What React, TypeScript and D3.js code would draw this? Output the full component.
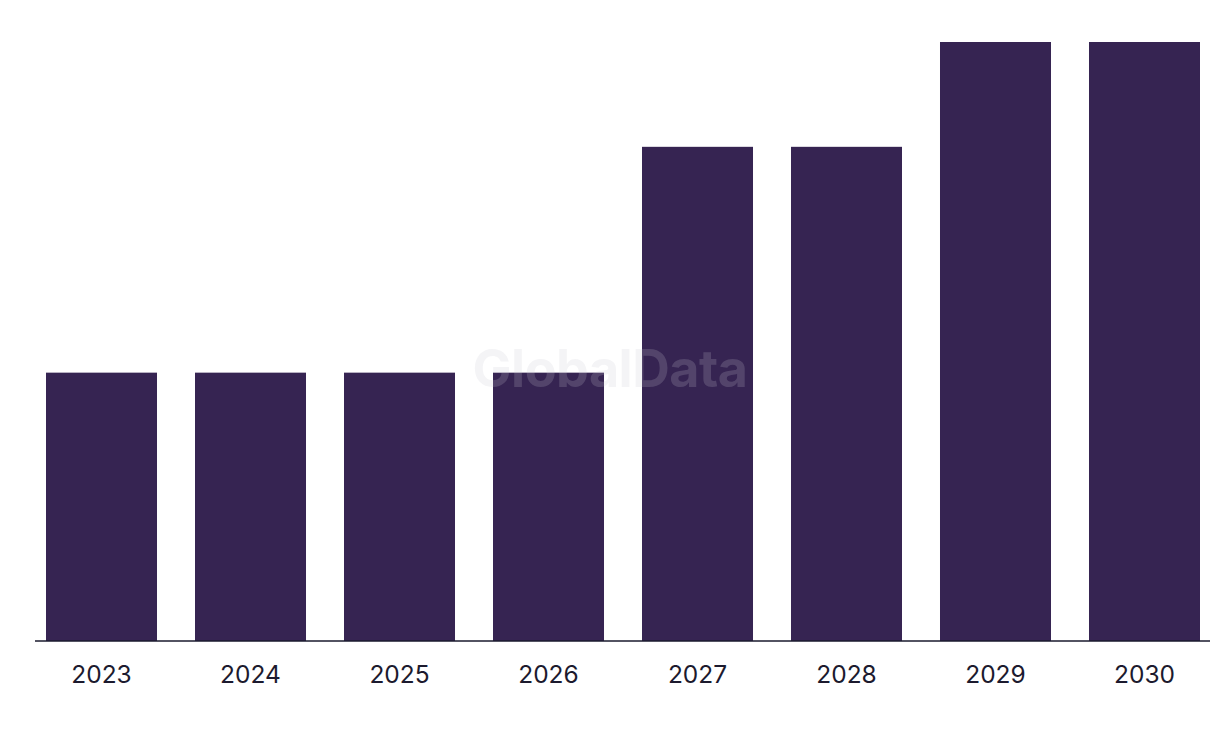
import React from "react";
import * as d3 from "d3";

const years = ["2023", "2024", "2025", "2026", "2027", "2028", "2029", "2030"];
const values = [4.48, 4.48, 4.48, 4.48, 8.25, 8.25, 10, 10];

const W = 1220;
const H = 738;
const baseY = 641;
const topY = 42;

export default function App() {
  const x = d3.scaleBand<string>().domain(years).range([46, 1200]).paddingInner(0.255).paddingOuter(0);
  const y = d3.scaleLinear().domain([0, 10]).range([baseY, topY]);
  return (
    <svg width={W} height={H} style={{ position: "absolute", left: 0, top: 0, background: "#fff" }}>
      {years.map((yr, i) => (
        <rect key={yr} x={x(yr)} y={y(values[i])} width={x.bandwidth()} height={baseY - y(values[i])} fill="#362452" />
      ))}
      <line x1={35} x2={1210} y1={baseY} y2={baseY} stroke="#1a1a2e" strokeWidth={1.6} />
      {years.map((yr) => (
        <text key={yr} x={(x(yr) as number) + x.bandwidth() / 2} y={683} textAnchor="middle"
          fontFamily="Inter, 'Noto Sans', sans-serif" fontSize={24.5} fill="#1c1a2e">{yr}</text>
      ))}
      <text x={610} y={387} textAnchor="middle" fontFamily="Inter, 'Noto Sans', sans-serif" fontWeight={700}
        fontSize={52} fill="#c8c8d2" fillOpacity={0.2} style={{ letterSpacing: "-0.5px" }}>GlobalData</text>
    </svg>
  );
}
